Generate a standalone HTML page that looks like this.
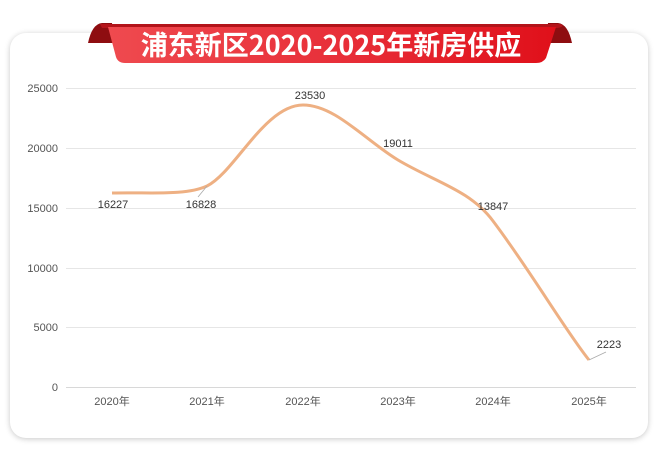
<!DOCTYPE html>
<html><head><meta charset="utf-8"><style>
html,body{margin:0;padding:0;background:#fff;}
body{width:660px;height:455px;position:relative;overflow:hidden;font-family:"Liberation Sans","Noto Sans CJK SC",sans-serif;}
.card{position:absolute;left:10px;top:33px;width:638px;height:405px;background:#fff;border-radius:16px;box-shadow:0 1px 6px rgba(0,0,0,0.22);}
</style></head><body>
<div class="card"></div>
<svg width="660" height="455" style="position:absolute;left:0;top:0">
<defs>
<linearGradient id="rg" x1="0" x2="1" y1="0" y2="0">
<stop offset="0" stop-color="#ef4a4f"/><stop offset="0.5" stop-color="#e8303a"/><stop offset="1" stop-color="#e0101a"/></linearGradient>
</defs>
<!-- ribbon folds -->
<path d="M88,43 Q92,24 102,23 L112,23 L114,43 Z" fill="#8e0d10"/>
<path d="M572,43 Q568,24 558,23 L548,23 L546,43 Z" fill="#8e0d10"/>
<path d="M100,24 L560,24 Q566,26 558,28 L102,28 Z" fill="#b3141a"/>
<path d="M108,27 L556,27 L546,58 Q543,63 536,63 L125,63 Q118,63 116,57 Z" fill="url(#rg)"/>
<text x="331" y="55" text-anchor="middle" font-size="27" font-weight="bold" fill="#fff" font-family="'Noto Sans CJK SC',sans-serif">浦东新区2020-2025年新房供应</text>
<g stroke="#e6e6e6" stroke-width="1">
<line x1="66" x2="636" y1="88.5" y2="88.5"/><line x1="66" x2="636" y1="148.5" y2="148.5"/>
<line x1="66" x2="636" y1="208.5" y2="208.5"/><line x1="66" x2="636" y1="268.5" y2="268.5"/>
<line x1="66" x2="636" y1="327.5" y2="327.5"/><line x1="66" x2="636" y1="387.5" y2="387.5" stroke="#d8d8d8"/>
</g>
<g font-size="11" fill="#555" text-anchor="end">
<text x="58" y="92">25000</text><text x="58" y="152">20000</text><text x="58" y="212">15000</text>
<text x="58" y="272">10000</text><text x="58" y="331">5000</text><text x="58" y="391">0</text>
</g>
<g font-size="11" fill="#555" text-anchor="middle">
<text x="112" y="405">2020年</text><text x="207" y="405">2021年</text><text x="303" y="405">2022年</text>
<text x="398" y="405">2023年</text><text x="493" y="405">2024年</text><text x="589" y="405">2025年</text>
</g>
<path d="M112,193 C150,192 185,196 207,186 C235,172 265,105 303,105 C335,105 365,140 398,160 C435,182 470,190 493,221 C530,270 565,330 589,360" fill="none" stroke="#eeb083" stroke-width="3"/>
<line x1="207" y1="186" x2="198" y2="197" stroke="#aaa" stroke-width="0.8"/>
<line x1="589" y1="360" x2="606" y2="352" stroke="#aaa" stroke-width="0.8"/>
<g font-size="11" fill="#333" text-anchor="middle">
<text x="113" y="208">16227</text><text x="201" y="208">16828</text><text x="310" y="99">23530</text>
<text x="398" y="147">19011</text><text x="493" y="210">13847</text><text x="609" y="348">2223</text>
</g>
</svg>
</body></html>
